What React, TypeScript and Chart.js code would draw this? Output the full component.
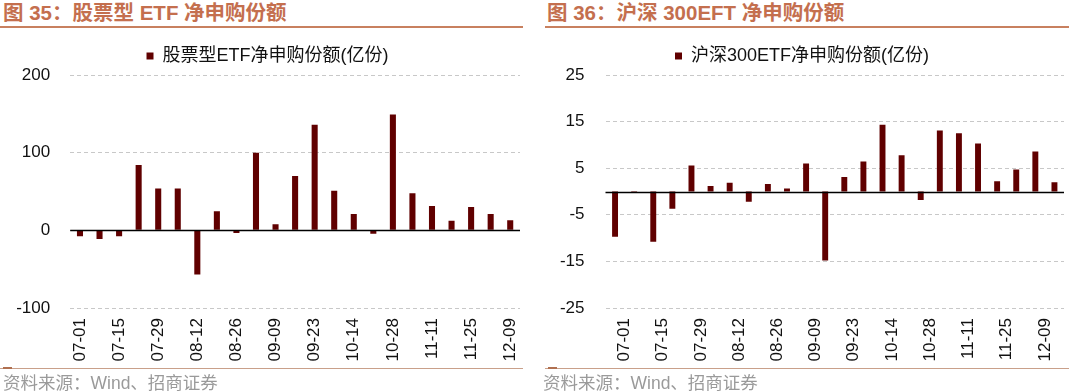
import React, { useEffect, useRef } from "react";
import { Chart, registerables } from "chart.js";

Chart.register(...registerables);

const FONT = '"Liberation Sans", Arial, "Noto Sans CJK SC", sans-serif';
Chart.defaults.font.family = FONT;

// ---- Data ----
const leftTitle = "图 35：股票型 ETF 净申购份额";
const leftSeriesName = "股票型ETF净申购份额(亿份)";
const leftTickLabels = ["07-01", "07-15", "07-29", "08-12", "08-26", "09-09", "09-23", "10-14", "10-28", "11-11", "11-25", "12-09"];
const leftValues = [-7.7, -11, -7.7, 84, 54, 54, -57, 24.5, -3.5, 100, 7.7, 70, 136, 51, 21, -4.3, 149, 47.6, 31.3, 12.4, 30, 21, 12.9];
const leftYTicks = { min: -100, max: 200, step: 100 };

const rightTitle = "图 36：沪深 300EFT 净申购份额";
const rightSeriesName = "沪深300ETF净申购份额(亿份)";
const rightTickLabels = ["07-01", "07-15", "07-29", "08-12", "08-26", "09-09", "09-23", "10-14", "10-28", "11-11", "11-25", "12-09"];
const rightValues = [-9.7, -0.3, -10.8, -3.7, 5.6, 1.2, 1.9, -2.2, 1.6, 0.65, 6.0, -14.8, 3.1, 6.45, 14.3, 7.8, -1.8, 13.1, 12.5, 10.3, 2.2, 4.7, 8.6, 2.0];
const rightYTicks = { min: -25, max: 25, step: 10 };

const source = "资料来源：Wind、招商证券";

const BAR_COLOR = "#600000";
const TITLE_COLOR = "#c46f4e";

const zeroLine = {
  id: "zeroLine",
  afterDatasetsDraw(chart: any) {
    const { ctx, chartArea, scales } = chart;
    const y = Math.round(scales.y.getPixelForValue(0)) + 0.5;
    ctx.save();
    ctx.strokeStyle = "#000";
    ctx.lineWidth = 1.5;
    ctx.beginPath();
    ctx.moveTo(chartArea.left, y);
    ctx.lineTo(chartArea.right, y);
    ctx.stroke();
    ctx.restore();
  },
};

type PanelProps = {
  values: number[];
  tickLabels: string[];
  name: string;
  yTicks: { min: number; max: number; step: number };
  yWidth: number;
  padLeft: number;
  padRight: number;
  yPad: number;
  labelOffset: number;
  canvasW: number;
};

function BarPanel(p: PanelProps) {
  const ref = useRef<HTMLCanvasElement | null>(null);
  useEffect(() => {
    if (!ref.current) return;
    const labels = p.values.map((_, i) => (i % 2 === 0 ? p.tickLabels[i / 2] ?? "" : ""));
    const chart = new Chart(ref.current, {
      type: "bar",
      data: {
        labels,
        datasets: [
          {
            label: p.name,
            data: p.values,
            backgroundColor: BAR_COLOR,
            borderWidth: 0,
            barPercentage: 0.31,
            categoryPercentage: 1,
          },
        ],
      },
      options: {
        animation: false,
        responsive: false,
        maintainAspectRatio: false,
        layout: { padding: { left: p.padLeft, right: p.padRight, top: 0, bottom: 0 } },
        plugins: {
          legend: {
            display: true,
            position: "top",
            labels: {
              boxWidth: 7,
              boxHeight: 7,
              padding: 10,
              color: "#111",
              font: { size: 18, family: FONT },
            },
          },
          tooltip: { enabled: false },
        },
        scales: {
          x: {
            grid: { display: false, drawTicks: false },
            border: { display: false },
            ticks: {
              autoSkip: false,
              minRotation: 90,
              maxRotation: 90,
              padding: 10,
              labelOffset: p.labelOffset,
              color: "#111",
              font: { size: 17 },
            },
            afterFit: (s: any) => {
              s.height = 60;
              s.paddingLeft = 0;
              s.paddingRight = 0;
            },
          },
          y: {
            min: p.yTicks.min,
            max: p.yTicks.max,
            ticks: {
              stepSize: p.yTicks.step,
              padding: p.yPad,
              color: "#111",
              font: { size: 17 },
            },
            grid: { color: "#c8c8c8", lineWidth: 1, drawTicks: false },
            border: { display: false, dash: [4, 3] },
            afterFit: (s: any) => {
              s.width = p.yWidth;
              s.paddingTop = 0;
              s.paddingBottom = 0;
            },
          },
        },
      },
      plugins: [zeroLine],
    });
    return () => chart.destroy();
  }, []);
  return <canvas ref={ref} width={p.canvasW} height={331} />;
}

function Panel(props: {
  left: number;
  width: number;
  title: string;
  titleX: number;
  lineX: number;
  lineW: number;
  children: React.ReactNode;
}) {
  return (
    <div style={{ position: "absolute", left: props.left, top: 0, width: props.width, height: 392 }}>
      <div
        style={{
          position: "absolute",
          left: props.titleX,
          top: 1,
          fontFamily: FONT,
          fontWeight: "bold",
          fontSize: 20.5,
          lineHeight: "24px",
          color: TITLE_COLOR,
          whiteSpace: "nowrap",
        }}
      >
        {props.title}
      </div>
      <div style={{ position: "absolute", left: props.lineX, top: 26, width: props.lineW, height: 2, background: "#c8805f" }} />
      <div style={{ position: "absolute", left: 0, top: 37, width: props.width, height: 331 }}>{props.children}</div>
      <div style={{ position: "absolute", left: props.lineX, top: 368, width: props.lineW, height: 1, background: "#c9a08a" }} />
      <div style={{ position: "absolute", left: props.lineX + 3, top: 367, width: 9, height: 2, background: "#b07050" }} />
      <div
        style={{
          position: "absolute",
          left: 3,
          top: 373,
          fontFamily: FONT,
          fontSize: 17.5,
          lineHeight: "20px",
          color: "#9a9a9a",
          whiteSpace: "nowrap",
        }}
      >
        {source}
      </div>
    </div>
  );
}

export default function App() {
  useEffect(() => {
    document.body.style.margin = "0";
  }, []);
  return (
    <div style={{ position: "relative", width: 1069, height: 392, background: "#fff", overflow: "hidden" }}>
      <Panel left={0} width={530} title={leftTitle} titleX={3} lineX={0} lineW={523}>
        <BarPanel
          values={leftValues}
          tickLabels={leftTickLabels}
          name={leftSeriesName}
          yTicks={leftYTicks}
          yWidth={55.2}
          padLeft={15}
          padRight={10}
          yPad={20}
          labelOffset={0}
          canvasW={530}
        />
      </Panel>
      <Panel left={540} width={529} title={rightTitle} titleX={7} lineX={5} lineW={524}>
        <BarPanel
          values={rightValues}
          tickLabels={rightTickLabels}
          name={rightSeriesName}
          yTicks={rightYTicks}
          yWidth={65.5}
          padLeft={0}
          padRight={5}
          yPad={21}
          labelOffset={9.5}
          canvasW={529}
        />
      </Panel>
    </div>
  );
}
